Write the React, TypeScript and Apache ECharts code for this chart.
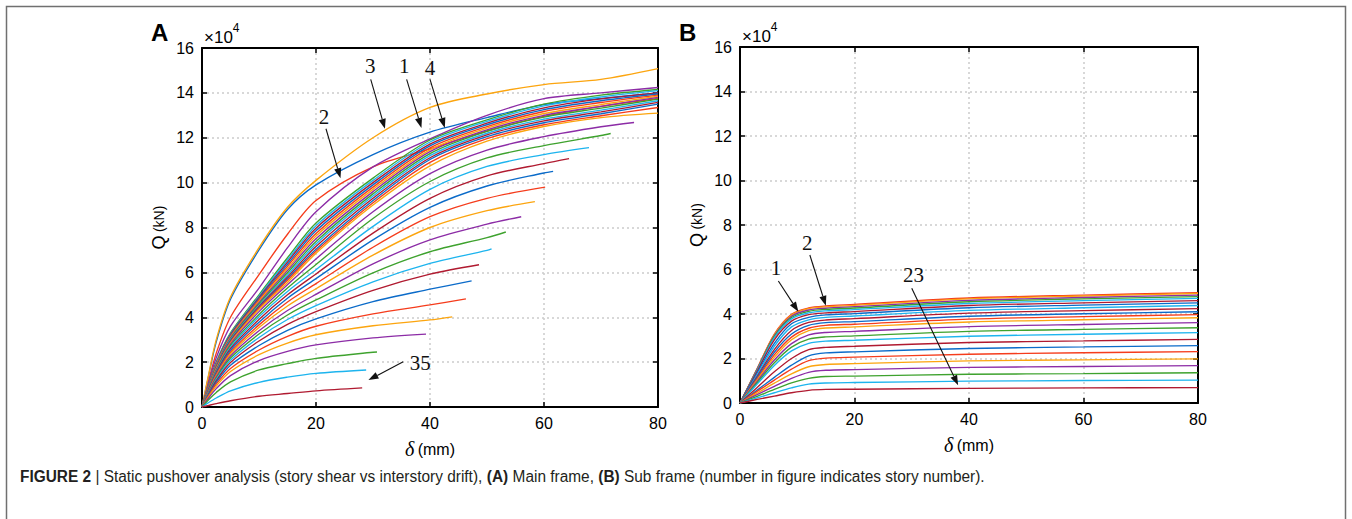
import React, { useEffect, useRef } from "react";
import * as echarts from "echarts";

// ---------- colours ----------
const BLUE = "#0b6bc9";
const RED = "#f53c1c";
const ORANGE = "#fca50f";
const PURPLE = "#8c2ca6";
const GREEN = "#3ea22e";
const CYAN = "#1db4ee";
const DARKRED = "#b01a30";
const CYCLE_A = [BLUE, RED, ORANGE, PURPLE, GREEN, CYAN, DARKRED];

// ---------- Frame A: story shear Q (x10^4 kN) at drift DELTA_A (mm) ----------
const DELTA_A = [0, 1, 2.5, 5, 10, 15, 20, 30, 40, 50, 60, 70, 80];
const A1 = [0, 1.2, 2.9, 4.8, 7.0, 8.8, 9.9, 11.25, 12.25, 12.9, 13.48, 13.75, 14.0];
const A2 = [0, 1.0, 2.4, 4.0, 5.9, 7.7, 9.2, 10.7, 11.5, 12.3, 12.95, 13.4, 13.75];
const A3 = [0, 1.25, 3.0, 4.9, 7.1, 8.9, 10.1, 12.0, 13.35, 13.95, 14.37, 14.6, 15.08];
const A4 = [0, 0.95, 2.2, 3.6, 5.3, 7.1, 8.7, 10.7, 11.95, 13.0, 13.74, 14.0, 14.24];
const A5 = [0, 0.85, 2.0, 3.3, 5.0, 6.65, 8.2, 10.2, 11.9, 12.8, 13.5, 13.9, 14.15];
const A6 = [0, 0.84, 1.98, 3.26, 4.94, 6.55, 8.08, 10.1, 11.81, 12.73, 13.42, 13.82, 14.1];
const A7 = [0, 0.83, 1.95, 3.23, 4.88, 6.46, 7.97, 10.0, 11.72, 12.65, 13.33, 13.73, 14.0];
const A8 = [0, 0.82, 1.93, 3.19, 4.83, 6.36, 7.85, 9.9, 11.64, 12.58, 13.25, 13.65, 13.95];
const A9 = [0, 0.81, 1.9, 3.15, 4.77, 6.27, 7.73, 9.8, 11.55, 12.5, 13.17, 13.57, 13.9];
const A10 = [0, 0.8, 1.88, 3.11, 4.71, 6.17, 7.62, 9.7, 11.46, 12.43, 13.08, 13.48, 13.85];
const A11 = [0, 0.8, 1.85, 3.08, 4.65, 6.08, 7.5, 9.6, 11.38, 12.35, 13.0, 13.4, 13.8];
const A12 = [0, 0.79, 1.83, 3.04, 4.59, 5.98, 7.38, 9.5, 11.29, 12.28, 12.92, 13.32, 13.72];
const A13 = [0, 0.78, 1.8, 3.0, 4.53, 5.88, 7.27, 9.4, 11.2, 12.2, 12.83, 13.23, 13.65];
const A14 = [0, 0.77, 1.78, 2.96, 4.48, 5.79, 7.15, 9.3, 11.11, 12.13, 12.75, 13.15, 13.58];
const A15 = [0, 0.76, 1.75, 2.93, 4.44, 5.72, 7.03, 9.2, 11.03, 12.05, 12.67, 13.07, 13.5];
const A16 = [0, 0.75, 1.73, 2.89, 4.4, 5.65, 6.94, 9.1, 10.9, 11.96, 12.58, 12.98, 13.35];
const A17 = [0, 0.74, 1.7, 2.85, 4.35, 5.55, 6.85, 9.0, 10.75, 11.85, 12.5, 12.9, 13.1];
const A18 = [0, 0.72, 1.66, 2.8, 4.25, 5.45, 6.6, 8.7, 10.4, 11.45, 12.05, 12.49];
const A19 = [0, 0.7, 1.62, 2.74, 4.12, 5.3, 6.35, 8.4, 10.05, 11.1, 11.65, 12.1];
const A20 = [0, 0.68, 1.58, 2.67, 4.02, 5.15, 6.12, 8.05, 9.7, 10.72, 11.25];
const A21 = [0, 0.66, 1.54, 2.6, 3.9, 5.0, 5.93, 7.75, 9.3, 10.3, 10.85];
const A22 = [0, 0.64, 1.49, 2.52, 3.78, 4.85, 5.72, 7.45, 8.9, 9.85, 10.43];
const A23 = [0, 0.62, 1.44, 2.44, 3.66, 4.68, 5.5, 7.12, 8.48, 9.3];
const A24 = [0, 0.6, 1.39, 2.36, 3.54, 4.5, 5.27, 6.77, 8.0, 8.75];
const A25 = [0, 0.58, 1.34, 2.27, 3.4, 4.3, 5.02, 6.38, 7.45, 8.15];
const A26 = [0, 0.56, 1.29, 2.18, 3.25, 4.1, 4.77, 5.98, 6.92, 7.55];
const A27 = [0, 0.53, 1.23, 2.08, 3.1, 3.9, 4.52, 5.58, 6.4, 6.98];
const A28 = [0, 0.5, 1.17, 1.98, 2.94, 3.68, 4.25, 5.2, 5.92];
const A29 = [0, 0.47, 1.1, 1.86, 2.74, 3.42, 3.93, 4.7, 5.25];
const A30 = [0, 0.44, 1.02, 1.72, 2.54, 3.15, 3.6, 4.15, 4.55];
const A31 = [0, 0.4, 0.93, 1.58, 2.33, 2.85, 3.22, 3.62, 3.88];
const A32 = [0, 0.35, 0.82, 1.4, 2.07, 2.48, 2.77, 3.08];
const A33 = [0, 0.28, 0.65, 1.12, 1.65, 1.93, 2.17, 2.44];
const A34 = [0, 0.17, 0.4, 0.72, 1.1, 1.33, 1.5];
const A35 = [0, 0.06, 0.15, 0.28, 0.48, 0.6, 0.72];
const STORIES_A = [A1, A2, A3, A4, A5, A6, A7, A8, A9, A10, A11, A12, A13, A14, A15, A16, A17, A18, A19, A20,
  A21, A22, A23, A24, A25, A26, A27, A28, A29, A30, A31, A32, A33, A34, A35];
// last point [delta, Q] of the curves that stop before 80 mm (stories 18..35)
const END_A: (number[] | null)[] = [null, null, null, null, null, null, null, null, null, null, null, null, null, null,
  null, null, null, [75.8, 12.68], [71.7, 12.19], [67.9, 11.56], [64.4, 11.07], [61.6, 10.5], [60.2, 9.8],
  [58.4, 9.15], [56.0, 8.48], [53.3, 7.8], [50.8, 7.05], [48.6, 6.34], [47.3, 5.62], [46.3, 4.82], [43.9, 4.02],
  [39.3, 3.25], [30.7, 2.45], [28.8, 1.65], [28.1, 0.85]];

// ---------- Frame B ----------
const DELTA_B = [0, 3, 6, 9, 12, 15, 20, 40, 60, 80];
const B1 = [0, 1.55, 3.1, 3.99, 4.27, 4.36, 4.43, 4.72, 4.85, 4.96];
const B2 = [0, 1.54, 3.07, 3.95, 4.24, 4.32, 4.39, 4.68, 4.81, 4.92];
const B3 = [0, 1.52, 3.03, 3.9, 4.18, 4.26, 4.33, 4.61, 4.74, 4.85];
const B4 = [0, 1.49, 2.99, 3.84, 4.12, 4.21, 4.27, 4.55, 4.68, 4.78];
const B5 = [0, 1.47, 2.94, 3.78, 4.05, 4.14, 4.2, 4.47, 4.6, 4.7];
const B6 = [0, 1.42, 2.84, 3.68, 3.97, 4.05, 4.11, 4.38, 4.5, 4.6];
const B7 = [0, 1.35, 2.68, 3.56, 3.85, 3.96, 4.02, 4.28, 4.4, 4.5];
const B8 = [0, 1.27, 2.55, 3.42, 3.74, 3.85, 3.91, 4.16, 4.28, 4.38];
const B9 = [0, 1.2, 2.4, 3.26, 3.62, 3.73, 3.79, 4.04, 4.15, 4.24];
const B10 = [0, 1.14, 2.28, 3.1, 3.49, 3.61, 3.66, 3.9, 4.01, 4.1];
const B11 = [0, 1.08, 2.16, 2.96, 3.36, 3.49, 3.54, 3.77, 3.88, 3.97];
const B12 = [0, 1.03, 2.05, 2.84, 3.25, 3.37, 3.42, 3.64, 3.74, 3.83];
const B13 = [0, 0.97, 1.93, 2.67, 3.06, 3.17, 3.22, 3.43, 3.53, 3.61];
const B14 = [0, 0.91, 1.81, 2.51, 2.87, 2.97, 3.02, 3.22, 3.31, 3.38];
const B15 = [0, 0.85, 1.69, 2.34, 2.68, 2.78, 2.82, 3.0, 3.09, 3.16];
const B16 = [0, 0.7, 1.4, 2.0, 2.4, 2.5, 2.55, 2.72, 2.79, 2.86];
const B17 = [0, 0.58, 1.15, 1.7, 2.12, 2.25, 2.3, 2.45, 2.52, 2.58];
const B18 = [0, 0.52, 1.03, 1.52, 1.9, 2.02, 2.06, 2.19, 2.26, 2.31];
const B19 = [0, 0.44, 0.89, 1.31, 1.63, 1.73, 1.77, 1.89, 1.94, 1.98];
const B20 = [0, 0.38, 0.75, 1.11, 1.38, 1.47, 1.5, 1.6, 1.64, 1.68];
const B21 = [0, 0.3, 0.61, 0.9, 1.11, 1.19, 1.21, 1.29, 1.32, 1.36];
const B22 = [0, 0.23, 0.46, 0.68, 0.85, 0.9, 0.92, 0.98, 1.01, 1.03];
const B23 = [0, 0.16, 0.31, 0.46, 0.57, 0.61, 0.62, 0.66, 0.68, 0.69];
const STORIES_B = [B1, B2, B3, B4, B5, B6, B7, B8, B9, B10, B11, B12, B13, B14, B15, B16, B17, B18, B19, B20, B21, B22, B23];
const COLORS_B = [RED, ORANGE, PURPLE, GREEN, CYAN, DARKRED, BLUE, CYAN, DARKRED, BLUE, RED, ORANGE, PURPLE, GREEN,
  CYAN, DARKRED, BLUE, RED, ORANGE, PURPLE, GREEN, CYAN, DARKRED];

// ---------- annotations (data coordinates) ----------
const NOTES_A = [
  { label: "3", at: [29.5, 15.2], from: [29.6, 14.6], to: [32.1, 12.4] },
  { label: "1", at: [35.5, 15.2], from: [35.9, 14.6], to: [38.5, 12.44] },
  { label: "4", at: [40.0, 15.12], from: [40.0, 14.6], to: [42.6, 12.44] },
  { label: "2", at: [21.4, 12.92], from: [21.75, 12.4], to: [24.3, 10.2] },
  { label: "35", at: [38.3, 1.95], from: [35.3, 2.02], to: [29.2, 1.2] },
];
const NOTES_B = [
  { label: "1", at: [6.3, 6.05], from: [6.7, 5.48], to: [10.2, 4.1] },
  { label: "2", at: [11.75, 7.2], from: [12.2, 6.65], to: [15.0, 4.37] },
  { label: "23", at: [30.3, 5.75], from: [30.0, 5.16], to: [38.1, 0.8] },
];

const CAPTION = [
  { t: "FIGURE 2", b: true },
  { t: " | Static pushover analysis (story shear vs interstory drift), ", b: false },
  { t: "(A)", b: true },
  { t: " Main frame, ", b: false },
  { t: "(B)", b: true },
  { t: " Sub frame (number in figure indicates story number).", b: false },
];

const SANS = "'Liberation Sans', Arial, Helvetica, sans-serif";
const SERIF = "'Liberation Serif', 'DejaVu Serif', serif";

function axesFor(g: number) {
  const line = { show: true, onZero: false, lineStyle: { color: "#000", width: 2 } };
  const tick = { show: true, inside: true, length: 5, lineStyle: { color: "#000", width: 1.5 } };
  const split = { show: true, lineStyle: { color: "#cccccc", width: 1.5, type: [2, 3] } };
  const lab = { color: "#000", fontSize: 16, fontFamily: SANS, margin: 8 };
  const x = [
    {
      gridIndex: g, type: "value", min: 0, max: 80, interval: 20, position: "bottom",
      name: "{d|δ} {u|(mm)}", nameLocation: "middle", nameGap: 32,
      nameTextStyle: {
        rich: {
          d: { fontFamily: SERIF, fontStyle: "italic", fontSize: 20, color: "#000" },
          u: { fontFamily: SANS, fontSize: 16, color: "#000" },
        },
      },
      axisLine: line, axisTick: tick, axisLabel: lab, splitLine: split,
    },
    {
      gridIndex: g, type: "value", min: 0, max: 80, interval: 20, position: "top",
      axisLine: line, axisTick: tick, axisLabel: { show: false }, splitLine: { show: false },
    },
  ];
  const y = [
    {
      gridIndex: g, type: "value", min: 0, max: 16, interval: 2, position: "left",
      name: "{q|Q} {u|(kN)}", nameLocation: "middle", nameGap: 34, nameRotate: 90,
      nameTextStyle: {
        rich: {
          q: { fontFamily: SANS, fontSize: 18, color: "#000" },
          u: { fontFamily: SANS, fontSize: 14, color: "#000" },
        },
      },
      axisLine: line, axisTick: tick, axisLabel: lab, splitLine: split,
    },
    {
      gridIndex: g, type: "value", min: 0, max: 16, interval: 2, position: "right",
      axisLine: line, axisTick: tick, axisLabel: { show: false }, splitLine: { show: false },
    },
  ];
  return { x, y };
}

function lineSeries(points: number[][], color: string, g: number) {
  return {
    type: "line", xAxisIndex: g * 2, yAxisIndex: g * 2, data: points,
    showSymbol: false, symbol: "none", smooth: 0.3, silent: true,
    lineStyle: { color, width: 1.35 }, itemStyle: { color }, emphasis: { disabled: true },
  };
}

function measure(text: string, font: string) {
  const c = document.createElement("canvas").getContext("2d");
  if (!c) return text.length * 7;
  c.font = font;
  return c.measureText(text).width;
}

export default function App() {
  const ref = useRef<HTMLDivElement>(null);
  useEffect(() => {
    if (!ref.current) return;
    const chart = echarts.init(ref.current, null, { renderer: "svg" });
    const a = axesFor(0);
    const b = axesFor(1);

    const series: any[] = [];
    STORIES_A.forEach((row, i) => {
      const pts = row.map((q, j) => [DELTA_A[j], q]);
      const end = END_A[i];
      if (end) pts.push(end);
      series.push(lineSeries(pts, CYCLE_A[i % 7], 0));
    });
    STORIES_B.forEach((row, i) => {
      const pts = row.map((q, j) => [DELTA_B[j], q]);
      series.push(lineSeries(pts, COLORS_B[i], 1));
    });

    chart.setOption({
      animation: false,
      grid: [
        { left: 202, top: 48, width: 456, height: 359 },
        { left: 740, top: 47, width: 458, height: 356 },
      ],
      xAxis: [...a.x, ...b.x],
      yAxis: [...a.y, ...b.y],
      series,
    });

    const gfx: any[] = [];
    // outer border
    gfx.push({
      type: "rect", z: 0, shape: { x: 6.5, y: 6.5, width: 1339, height: 600 },
      style: { fill: "none", stroke: "#707070", lineWidth: 1.5 }, silent: true,
    });
    // panel letters
    gfx.push({ type: "text", x: 151, y: 32, z: 50, style: { text: "A", fill: "#000", font: `bold 24px ${SANS}`, textAlign: "left", textVerticalAlign: "middle", align: "left", verticalAlign: "middle" } });
    gfx.push({ type: "text", x: 679, y: 32, z: 50, style: { text: "B", fill: "#000", font: `bold 24px ${SANS}`, textAlign: "left", textVerticalAlign: "middle", align: "left", verticalAlign: "middle" } });

    const addNotes = (g: number, notes: typeof NOTES_A) => {
      const topLeft = chart.convertToPixel({ gridIndex: g }, [0, 16]) as number[];
      gfx.push({
        type: "text", x: topLeft[0] + 2, y: topLeft[1] - 2, z: 50,
        style: {
          text: "{a|×10}{b|4}", textAlign: "left", textVerticalAlign: "bottom", align: "left", verticalAlign: "bottom",
          rich: {
            a: { fontSize: 17, fontFamily: SANS, fill: "#000", color: "#000", verticalAlign: "bottom", lineHeight: 24 },
            b: { fontSize: 12, fontFamily: SANS, fill: "#000", color: "#000", verticalAlign: "top", lineHeight: 24 },
          },
        },
      });
      notes.forEach((n) => {
        const p = chart.convertToPixel({ gridIndex: g }, n.at) as number[];
        const s = chart.convertToPixel({ gridIndex: g }, n.from) as number[];
        const e = chart.convertToPixel({ gridIndex: g }, n.to) as number[];
        gfx.push({
          type: "text", x: p[0], y: p[1], z: 60,
          style: { text: n.label, fill: "#111", font: `21px ${SERIF}`, textAlign: "center", textVerticalAlign: "middle", align: "center", verticalAlign: "middle" },
        });
        const dx = e[0] - s[0], dy = e[1] - s[1];
        const len = Math.hypot(dx, dy) || 1;
        const ux = dx / len, uy = dy / len;
        const hl = 10, hw = 3.6;
        const bx = e[0] - ux * hl, by = e[1] - uy * hl;
        gfx.push({
          type: "line", z: 60, shape: { x1: s[0], y1: s[1], x2: bx, y2: by },
          style: { stroke: "#111", lineWidth: 1.1 },
        });
        gfx.push({
          type: "polygon", z: 60,
          shape: { points: [[e[0], e[1]], [bx - uy * hw, by + ux * hw], [bx + uy * hw, by - ux * hw]] },
          style: { fill: "#111" },
        });
      });
    };
    addNotes(0, NOTES_A);
    addNotes(1, NOTES_B);

    // caption
    const fs = 16;
    let total = 0;
    CAPTION.forEach((c) => { total += measure(c.t, `${c.b ? "bold " : ""}${fs}px ${SANS}`); });
    const targetW = 965;
    const sx = total > 0 ? targetW / total : 1;
    const rich: any = {
      b: { fontFamily: SANS, fontSize: fs, fontWeight: "bold", fill: "#231f20", color: "#231f20" },
      r: { fontFamily: SANS, fontSize: fs, fontWeight: "normal", fill: "#231f20", color: "#231f20" },
    };
    const capText = CAPTION.map((c) => `{${c.b ? "b" : "r"}|${c.t}}`).join("");
    gfx.push({
      type: "text", x: 20, y: 476, scaleX: sx, z: 50,
      style: { text: capText, rich, textAlign: "left", textVerticalAlign: "middle", align: "left", verticalAlign: "middle" },
    });

    chart.setOption({ graphic: gfx });
    return () => chart.dispose();
  }, []);
  return <div ref={ref} style={{ position: "absolute", left: 0, top: 0, width: 1352, height: 519 }} />;
}
